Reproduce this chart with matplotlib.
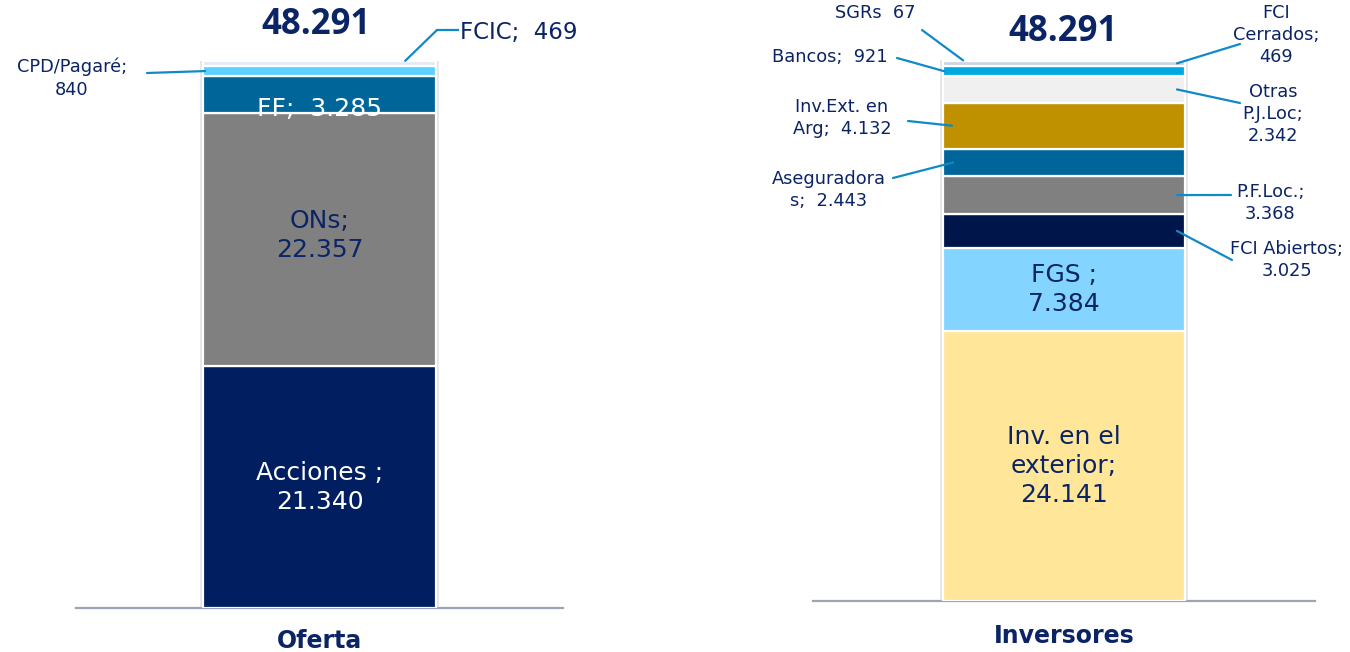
import matplotlib.pyplot as plt
from matplotlib.lines import Line2D

W, H = 1350, 652

# --- data -------------------------------------------------------------
oferta_cats = ["Acciones", "ONs", "FF", "CPD/Pagaré", "FCIC"]
oferta_vals = [21340, 22357, 3285, 840, 469]
oferta_colors = ["#001E60", "#808080", "#00669A", "#5CD1FF", "#E3EAF2"]

inv_cats = ["Inv. en el exterior", "FGS", "FCI Abiertos", "P.F.Loc.", "Aseguradoras",
            "Inv.Ext. en Arg", "Otras P.J.Loc", "Bancos", "FCI Cerrados", "SGRs"]
inv_vals = [24141, 7384, 3025, 3368, 2443, 4132, 2342, 921, 469, 67]
inv_colors = ["#FFE699", "#83D4FF", "#00164A", "#808080", "#00669A",
              "#BF9000", "#F0F0F0", "#00A9E0", "#C9D6E6", "#9FB4CF"]

totales = [48291, 48291]
grupos = ["Oferta", "Inversores"]

NAVY = "#0B2465"
LEAD = "#1089C9"
plt.rcParams["font.family"] = ["DejaVu Sans"]
BOLD = ["Open Sans", "DejaVu Sans"]


def fmt(v):
    return f"{v:,}".replace(",", ".")


def fx(px):
    return px / W


def fy(py):
    return 1 - py / H


def cum_bottoms(vals):
    out, c = [], 0
    for v in vals:
        out.append(c)
        c += v
    return out


fig = plt.figure(figsize=(13.5, 6.52), dpi=100)
fig.patch.set_facecolor("white")

# axes placed to match the two panels
ax1 = fig.add_axes([fx(76), 44 / H, 487 / W, 547 / H])
ax2 = fig.add_axes([fx(813), 51 / H, 502 / W, 541 / H])

panels = [
    (ax1, oferta_vals, oferta_colors, 0.478),
    (ax2, inv_vals, inv_colors, 0.482),
]
bars = []
for ax, vals, cols, bw in panels:
    ax.set_xlim(0, 1)
    ax.set_ylim(0, totales[0])
    # soft shadow around the column
    ax.bar(0.5, sum(vals), bottom=0, width=bw, color="none",
           edgecolor="#E2E4E8", linewidth=4, zorder=1)
    bs = ax.bar([0.5] * len(vals), vals, bottom=cum_bottoms(vals), width=bw,
                color=cols, edgecolor="white", linewidth=1.6, zorder=3)
    bars.append(bs)
    for s in ["top", "right", "left"]:
        ax.spines[s].set_visible(False)
    ax.spines["bottom"].set_color("#9EA3B5")
    ax.spines["bottom"].set_linewidth(1.6)
    ax.set_xticks([])
    ax.set_yticks([])
    ax.patch.set_alpha(0)

# --- inside labels ----------------------------------------------------
ob = cum_bottoms(oferta_vals)
ib = cum_bottoms(inv_vals)
big = dict(ha="center", va="center", fontsize=18, linespacing=1.25, zorder=5)

ax1.text(0.5, ob[0] + oferta_vals[0] / 2, f"Acciones ;\n{fmt(oferta_vals[0])}",
         color="white", **big)
ax1.text(0.5, ob[1] + oferta_vals[1] / 2 + 350, f"ONs;\n{fmt(oferta_vals[1])}",
         color=NAVY, **big)
t = ax1.text(0.5, ob[2] + oferta_vals[2] / 2 - 1300, f"FF;  {fmt(oferta_vals[2])}",
             color="white", **big)
t.set_clip_path(bars[0][2])

ax2.text(0.5, ib[0] + inv_vals[0] / 2, f"Inv. en el\nexterior;\n{fmt(inv_vals[0])}",
         color=NAVY, **big)
ax2.text(0.5, ib[1] + inv_vals[1] / 2, f"FGS ;\n{fmt(inv_vals[1])}",
         color=NAVY, **big)


# --- leader lines -----------------------------------------------------
def leader(ax, xf, yv, elbow, end=None):
    ax.annotate("", xy=(xf, yv), xycoords="data",
                xytext=(elbow[0], H - elbow[1]), textcoords="figure pixels",
                arrowprops=dict(arrowstyle="-", color=LEAD, lw=1.6,
                                shrinkA=0, shrinkB=0),
                annotation_clip=False, zorder=6)
    if end is not None:
        fig.add_artist(Line2D([fx(elbow[0]), fx(end[0])], [fy(elbow[1]), fy(end[1])],
                              color=LEAD, lw=1.6))


def mid(bottoms, vals, i):
    return bottoms[i] + vals[i] / 2


# Oferta
leader(ax1, 0.676, mid(ob, oferta_vals, 4) + 250, (437, 30), (458, 30))
fig.text(fx(460), fy(32), f"FCIC;  {fmt(oferta_vals[4])}", ha="left", va="center",
         color=NAVY, fontsize=16.5)
leader(ax1, 0.265, mid(ob, oferta_vals, 3), (147, 73))
fig.text(fx(72), fy(78), f"CPD/Pagaré;\n{fmt(oferta_vals[3])}", ha="center", va="center",
         color=NAVY, fontsize=12.8, linespacing=1.35)

# Inversores
small = dict(color=NAVY, fontsize=12.8, linespacing=1.3, ha="center", va="center")
leader(ax2, 0.299, mid(ib, inv_vals, 9), (922, 30))
fig.text(fx(875), fy(13), f"SGRs  {fmt(inv_vals[9])}", **small)
leader(ax2, 0.261, mid(ib, inv_vals, 7), (897, 58))
fig.text(fx(888), fy(57), f"Bancos;  {fmt(inv_vals[7])}", color=NAVY, fontsize=12.8,
         ha="right", va="center")
leader(ax2, 0.725, mid(ib, inv_vals, 8), (1240, 44))
fig.text(fx(1276), fy(35), f"FCI\nCerrados;\n{fmt(inv_vals[8])}", **small)
leader(ax2, 0.725, mid(ib, inv_vals, 6), (1240, 103))
fig.text(fx(1273), fy(114), f"Otras\nP.J.Loc;\n{fmt(inv_vals[6])}", **small)
leader(ax2, 0.277, mid(ib, inv_vals, 5), (908, 121))
fig.text(fx(842), fy(118), f"Inv.Ext. en\nArg;  {fmt(inv_vals[5])}", **small)
leader(ax2, 0.279, mid(ib, inv_vals, 4), (893, 178))
fig.text(fx(829), fy(190), f"Aseguradora\ns;  {fmt(inv_vals[4])}", **small)
leader(ax2, 0.725, mid(ib, inv_vals, 3), (1231, 195))
fig.text(fx(1270), fy(203), f"P.F.Loc.;\n{fmt(inv_vals[3])}", **small)
leader(ax2, 0.725, mid(ib, inv_vals, 2), (1232, 260))
fig.text(fx(1287), fy(260), f"FCI Abiertos;\n{fmt(inv_vals[2])}", **small)

# --- totals and group names ------------------------------------------
fig.text(fx(316), fy(25), fmt(totales[0]), ha="center", va="center",
         color=NAVY, fontsize=25, fontweight="bold", family=BOLD)
fig.text(fx(1063), fy(32), fmt(totales[1]), ha="center", va="center",
         color=NAVY, fontsize=25, fontweight="bold", family=BOLD)
fig.text(fx(319), fy(641), grupos[0], ha="center", va="center",
         color=NAVY, fontsize=17, fontweight="bold")
fig.text(fx(1064), fy(636), grupos[1], ha="center", va="center",
         color=NAVY, fontsize=17, fontweight="bold")

fig.savefig("out.png", dpi=100, facecolor="white")
plt.close(fig)
